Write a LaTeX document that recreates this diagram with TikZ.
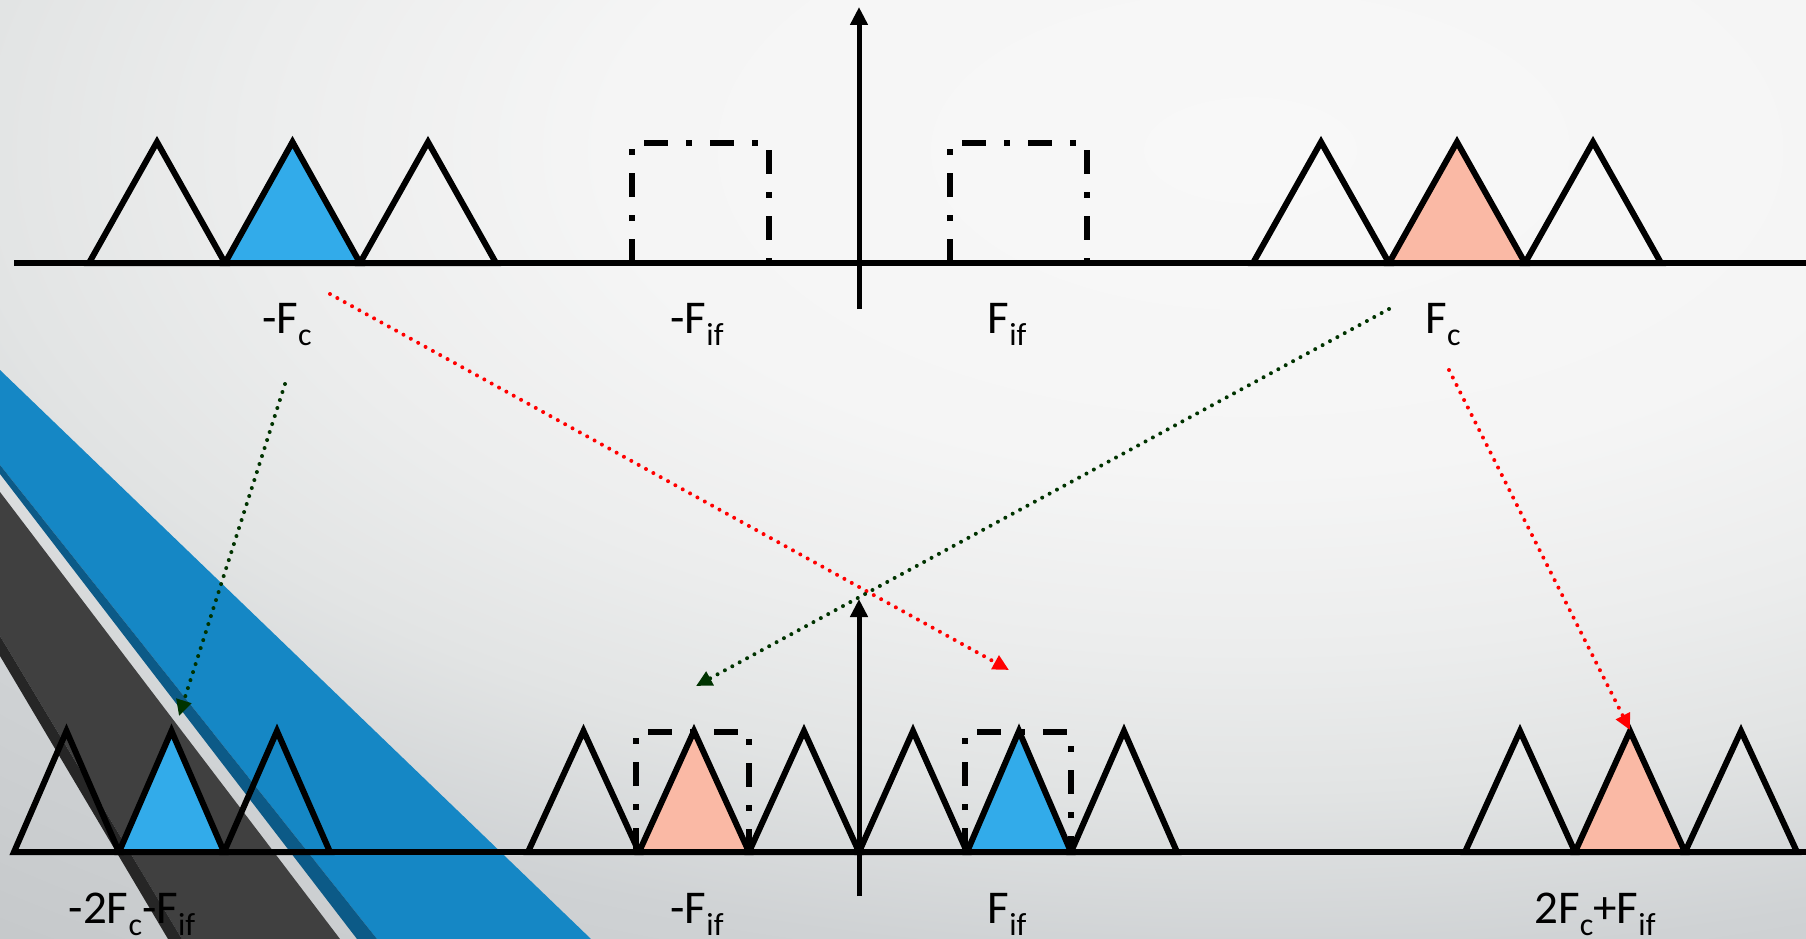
\documentclass[tikz,border=0pt]{standalone}
\usepackage{fontspec}
\setmainfont{Carlito}
\usetikzlibrary{arrows.meta}
\definecolor{bgA}{HTML}{F8F8F8}
\definecolor{bgB}{HTML}{F5F5F5}
\definecolor{bgC}{HTML}{ECEDED}
\definecolor{bgD}{HTML}{E2E4E4}
\definecolor{bgF}{HTML}{CFD2D4}
\definecolor{bgE}{HTML}{C6C9CB}
\definecolor{bandblue}{HTML}{1587C5}
\definecolor{banddark}{HTML}{0C5A87}
\definecolor{bandgrey}{HTML}{404040}
\definecolor{bandblack}{HTML}{262626}
\definecolor{triblue}{HTML}{32ABEA}
\definecolor{trisalmon}{HTML}{FAB9A5}
\definecolor{arrred}{HTML}{FF0000}
\definecolor{arrgreen}{HTML}{003300}
\pgfdeclareradialshading{bgrad}{\pgfpointorigin}{color(0bp)=(bgA); color(8bp)=(bgB); color(12.5bp)=(bgC); color(16bp)=(bgD); color(20.25bp)=(bgF); color(25bp)=(bgE); color(50bp)=(bgE)}
\newcommand\lsub[1]{\raisebox{-12pt}{\fontsize{32}{32}\selectfont #1}}
\tikzset{
  tri/.style={line width=6pt, miter limit=20, draw=black},
  axisline/.style={line width=6pt, draw=black},
  vaxis/.style={line width=5pt, draw=black, -{Triangle[length=18pt,width=17pt]}},
  dashbox/.style={line width=6pt, draw=black, dash pattern=on 24pt off 18pt on 6pt off 18pt},
  lbl/.style={anchor=base, inner sep=0pt, font=\fontsize{47}{56}\selectfont},
  dotarrow/.style={line width=4pt, line cap=round, dash pattern=on 0pt off 8.4pt, -{Triangle[length=16pt,width=15pt]}},
}
\begin{document}
\begin{tikzpicture}[x=1pt,y=-1pt]
\useasboundingbox (0,0) rectangle (1806,939);
% background
\fill[bgE] (0,0) rectangle (1806,939);
\begin{scope}
\clip (0,0) rectangle (1806,939);
\shade[shading=bgrad] (1250,150) ellipse (2000 and 1000);
% decorative bands
\fill[bandblue] (0,370) -- (591,939) -- (377,939) -- (0,465) -- cycle;
\fill[banddark] (0,465) -- (377,939) -- (357,939) -- (0,474) -- cycle;
\fill[bandgrey] (0,492) -- (340,939) -- (182,939) -- (0,636) -- cycle;
\fill[bandblack] (0,636) -- (182,939) -- (168,939) -- (0,656) -- cycle;
\end{scope}

% ---------- top spectrum ----------
\foreach \a/\b in {89/225,360/496,1253/1389,1525/1661}
  \draw[tri] (\a,263) -- ({(\a+\b)/2},142) -- (\b,263) -- cycle;
\filldraw[tri, fill=triblue] (225,263) -- (292.5,142) -- (360,263) -- cycle;
\filldraw[tri, fill=trisalmon] (1389,263) -- (1457,142) -- (1525,263) -- cycle;
\draw[dashbox] (632,263) rectangle (769,143);
\draw[dashbox] (950,263) rectangle (1087,143);
\draw[axisline] (14,263) -- (1806,263);
\coordinate (ta0) at (859,309);
\coordinate (ta1) at (859,7);
\draw[vaxis] (ta0) -- (ta1);

\node[lbl] (lmFc) at (287,333) {-F\lsub{c}};
\node[lbl] (lmFif) at (697,333) {-F\lsub{if}};
\node[lbl] (lFif) at (1007,333) {F\lsub{if}};
\node[lbl] (lFc) at (1443,333) {F\lsub{c}};

% ---------- bottom spectrum ----------
\foreach \a/\b in {14/119,224/330,528/639,749/859,859/967,1071/1177,1465/1575,1685/1797}
  \draw[tri] (\a,852) -- ({(\a+\b)/2},731) -- (\b,852) -- cycle;
\filldraw[tri, fill=triblue] (119,852) -- (171.5,731) -- (224,852) -- cycle;
\filldraw[tri, fill=trisalmon] (639,852) -- (694,731) -- (749,852) -- cycle;
\filldraw[tri, fill=triblue] (967,852) -- (1019,731) -- (1071,852) -- cycle;
\filldraw[tri, fill=trisalmon] (1575,852) -- (1630,731) -- (1685,852) -- cycle;
\draw[dashbox] (636,852) rectangle (749,732);
\draw[dashbox] (965,852) rectangle (1071,732);
\draw[axisline] (14,852) -- (1806,852);
\coordinate (ba0) at (859,896);
\coordinate (ba1) at (859,599);
\draw[vaxis] (ba0) -- (ba1);

\node[lbl] (bl1) at (132,923) {-2F\lsub{c}-F\lsub{if}};
\node[lbl] (bl2) at (697,923) {-F\lsub{if}};
\node[lbl] (bl3) at (1007,923) {F\lsub{if}};
\node[lbl] (bl4) at (1595,923) {2F\lsub{c}+F\lsub{if}};

% ---------- dotted arrows ----------
\coordinate (r1s) at (330,294);
\coordinate (r1e) at (1009,670);
\coordinate (g1s) at (1389,309);
\coordinate (g1e) at (696,686);
\coordinate (g2s) at (285,384);
\coordinate (g2e) at (179,716);
\coordinate (r2s) at (1449,370);
\coordinate (r2e) at (1630,730);
\draw[dotarrow, arrred] (r1s) -- (r1e);
\draw[dotarrow, arrgreen] (g1s) -- (g1e);
\draw[dotarrow, arrgreen] (g2s) -- (g2e);
\draw[dotarrow, arrred] (r2s) -- (r2e);
\end{tikzpicture}
\end{document}
